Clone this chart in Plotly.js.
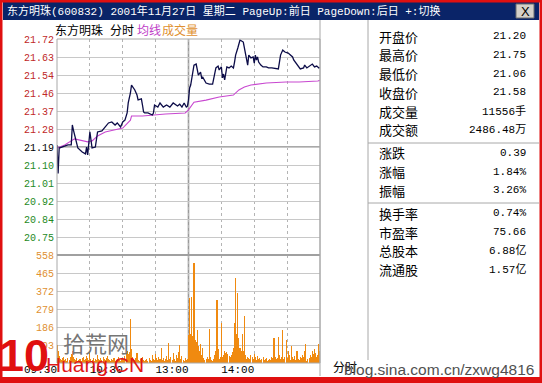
<!DOCTYPE html>
<html><head><meta charset="utf-8">
<script src="https://cdn.plot.ly/plotly-3.0.1.min.js"></script>
<style>html,body{margin:0;padding:0;background:#fff;overflow:hidden}</style>
</head><body><div id="chart" style="width:542px;height:383px"></div>
<script>
// ---------------- data ----------------
const windowTitle = "东方明珠(600832) 2001年11月27日 星期二 PageUp:前日 PageDown:后日 +:切换";
const headerItems = ["东方明珠", "分时", "均线", "成交量"];
const preClose = 21.19;
const priceHigh = 21.72;
const priceTickLabels = ["21.72","21.63","21.54","21.46","21.37","21.28","21.19","21.10","21.01","20.92","20.84","20.75",""];
const pctTickLabels = ["2.50%","2.08%","1.67%","1.25%","0.83%","0.42%","0.00%","0.42%","0.83%","1.25%","1.67%","2.08%",""];
const volTickValues = [0, 93, 186, 279, 372, 465, 558];
const volTickLabels = ["", "93", "186", "279", "372", "465", "558"];
const timeTickMinutes = [0, 30, 60, 90, 120, 150, 180, 210, 240];
const timeTickLabels = ["09:30", "", "10:30", "", "13:00", "", "14:00", "", ""];

// minute index (0 = 9:30, 120 = 11:30/13:00, 240 = 15:00) and price
const priceMinutes = [0,1,2,5,10,13,14,15,17,19,23,26,27,28,30,32,35,37,41,44,47,50,53,55,58,60,62,64,65,67,68,71,73,74,77,78,79,80,83,87,88,89,92,94,97,100,103,106,110,112,114,116,118,119,120,121,122,125,127,129,131,132,133,136,139,142,143,145,147,148,150,151,152,153,155,157,159,161,162,163,165,166,167,170,171,173,174,175,177,179,180,181,182,183,184,186,188,191,193,196,200,202,203,204,206,208,211,213,215,216,218,220,222,225,226,228,230,233,235,237,239,240];
const priceValues = [21.20,21.06,21.185,21.19,21.20,21.20,21.298,21.273,21.224,21.185,21.165,21.156,21.19,21.151,21.264,21.185,21.19,21.264,21.269,21.288,21.308,21.313,21.298,21.308,21.288,21.313,21.322,21.357,21.406,21.455,21.494,21.47,21.445,21.421,21.426,21.396,21.362,21.357,21.357,21.347,21.357,21.396,21.386,21.406,21.386,21.396,21.386,21.406,21.391,21.40,21.386,21.406,21.386,21.39,21.42,21.48,21.494,21.592,21.597,21.543,21.558,21.529,21.533,21.504,21.499,21.499,21.529,21.578,21.587,21.568,21.583,21.529,21.548,21.519,21.583,21.578,21.587,21.578,21.607,21.641,21.676,21.70,21.715,21.705,21.676,21.607,21.592,21.641,21.627,21.632,21.602,21.641,21.617,21.632,21.607,21.592,21.583,21.583,21.578,21.578,21.573,21.573,21.607,21.641,21.666,21.656,21.651,21.641,21.632,21.617,21.602,21.583,21.573,21.578,21.592,21.578,21.587,21.597,21.583,21.587,21.578,21.58];

const avgMinutes = [0,7,16,28,32,37,44,53,60,67,68,78,87,99,117,120,125,136,148,161,166,171,177,191,209,221,238,240];
const avgValues = [21.185,21.20,21.23,21.215,21.22,21.244,21.264,21.273,21.283,21.322,21.342,21.342,21.347,21.352,21.357,21.372,21.41,21.42,21.435,21.445,21.47,21.484,21.494,21.504,21.509,21.509,21.514,21.517];

// volume (lots) per minute, index = minute
const volume = [
 95,60,35,20,15,25,30,15,20,10,
 25,15,30,45,60,30,20,15,25,10,
 15,20,10,25,30,15,20,35,25,15,
 50,20,15,25,10,20,15,40,20,15,
 25,15,30,20,15,25,35,20,15,10,
 20,15,25,10,15,20,30,15,10,20,
 25,20,35,50,60,45,55,227,70,30,
 20,15,25,50,15,10,20,15,30,15,
 10,15,20,10,25,15,10,40,20,15,
 45,25,15,30,20,78,15,25,10,20,
 35,15,103,20,30,15,50,20,10,40,
 25,55,93,20,35,15,10,25,15,20,
 145,336,150,340,140,517,120,110,170,90,
 60,100,40,80,25,15,20,30,20,176,
 30,15,10,20,40,60,325,70,20,30,
 207,30,40,60,50,55,45,35,30,40,
 55,80,207,439,150,362,130,80,60,150,
 60,243,40,20,30,25,20,40,30,20,
 45,30,15,35,20,25,15,20,30,15,
 20,25,10,15,20,15,30,25,129,30,
 20,25,134,40,20,30,170,20,30,120,
 25,60,40,15,90,30,20,35,15,60,
 20,15,30,25,40,30,60,100,10,20,
 25,40,30,60,45,70,50,30,40,100,
 60
];

const infoLabels = ["开盘价","最高价","最低价","收盘价","成交量","成交额","涨跌","涨幅","振幅","换手率","市盈率","总股本","流通股"];
const infoValues = ["21.20","21.75","21.06","21.58","11556手","2486.48万","0.39","1.84%","3.26%","0.74%","75.66","6.88亿","1.57亿"];
const watermarkSite = "blog.sina.com.cn/zxwg4816";

// ---------------- layout helpers ----------------
const W = 542, H = 383;
const fx = x => x / W;
const fy = y => 1 - y / H;
const RED = '#c02828', GREEN = '#1e8a1e', ORANGE = '#e09030', MONO = 'Liberation Mono, Noto Sans CJK SC', CJK = 'Noto Sans CJK SC, Noto Sans';

const step = (priceHigh - preClose) / 6;
const priceTickVals = priceTickLabels.map((_, k) => preClose + (6 - k) * step);
const colorFor = k => k < 6 ? RED : (k === 6 ? '#000' : GREEN);
const priceTickText = priceTickLabels.map((t, k) => t ? '<span style="color:' + colorFor(k) + '">' + t + '</span>' : '');
const pctTickText = pctTickLabels.map((t, k) => t ? '<span style="color:' + colorFor(k) + '">' + t + '</span>' : '');
const minutesAll = volume.map((_, i) => i);

const traces = [
  {x: minutesAll, y: volume, type: 'bar', xaxis: 'x', yaxis: 'y3', marker: {color: '#f08a10', line: {width: 0}}, width: 0.95, hoverinfo: 'skip'},
  {x: avgMinutes, y: avgValues, type: 'scatter', mode: 'lines', xaxis: 'x2', yaxis: 'y', line: {color: '#c848d0', width: 1.1}, hoverinfo: 'skip'},
  {x: priceMinutes, y: priceValues, type: 'scatter', mode: 'lines', xaxis: 'x2', yaxis: 'y', line: {color: '#0c0c48', width: 1.3}, hoverinfo: 'skip'}
];

const gridX = {range: [0, 240], domain: [fx(57), fx(320)], tickvals: timeTickMinutes, showgrid: true, gridcolor: '#b4b4b4', griddash: 'dot', gridwidth: 1, zeroline: false, showline: false, ticks: '', fixedrange: true};
const layout = {
  width: W, height: H, margin: {l: 0, r: 0, t: 0, b: 0},
  paper_bgcolor: '#fff', plot_bgcolor: 'rgba(0,0,0,0)', showlegend: false, bargap: 0,
  xaxis: Object.assign({}, gridX, {anchor: 'y3', ticktext: timeTickLabels, ticklabelposition: 'outside left', ticklabelstandoff: -2, tickfont: {family: MONO, size: 11, color: '#000'}}),
  xaxis2: Object.assign({}, gridX, {anchor: 'y', showticklabels: false}),
  yaxis: {domain: [fy(255), fy(39)], range: [preClose - 6 * step, priceHigh], anchor: 'x2', tickvals: priceTickVals, ticktext: priceTickText, showgrid: true, gridcolor: '#c8c8c8', zeroline: false, ticks: '', ticklabelstandoff: 2, tickfont: {family: MONO, size: 10}, fixedrange: true},
  yaxis2: {overlaying: 'y', side: 'right', anchor: 'x2', range: [preClose - 6 * step, priceHigh], tickvals: priceTickVals, ticktext: pctTickText, showgrid: false, zeroline: false, ticks: '', ticklabelstandoff: 2, tickfont: {family: MONO, size: 10}, fixedrange: true},
  yaxis3: {domain: [fy(363), fy(255)], range: [0, 558], anchor: 'x', tickvals: volTickValues, ticktext: volTickLabels, showgrid: true, gridcolor: '#c8c8c8', zeroline: false, ticks: '', ticklabelstandoff: 2, tickfont: {family: MONO, size: 10, color: ORANGE}, fixedrange: true},
  yaxis4: {overlaying: 'y3', side: 'right', anchor: 'x', range: [0, 558], tickvals: volTickValues, ticktext: volTickLabels, showgrid: false, zeroline: false, ticks: '', ticklabelstandoff: 2, tickfont: {family: MONO, size: 10, color: ORANGE}, fixedrange: true},
  shapes: [], annotations: []
};

const S = layout.shapes, A = layout.annotations;
const pline = (x0, y0, x1, y1, color, w) => S.push({type: 'line', xref: 'paper', yref: 'paper', x0: fx(x0), y0: fy(y0), x1: fx(x1), y1: fy(y1), line: {color: color, width: w}, layer: 'above'});
const prect = (x0, y0, x1, y1, fill, lc, lw, layer) => S.push({type: 'rect', xref: 'paper', yref: 'paper', x0: fx(x0), y0: fy(y0), x1: fx(x1), y1: fy(y1), fillcolor: fill, line: {color: lc, width: lw}, layer: layer || 'above'});
const text = (s, x, y, opts) => A.push(Object.assign({text: s, xref: 'paper', yref: 'paper', x: fx(x), y: fy(y), showarrow: false, xanchor: 'left', yanchor: 'middle', font: {family: CJK, size: 12, color: '#000'}}, opts || {}));

// window frame and title bar
prect(3, 2, 539, 20, '#0a2468', '#0a2468', 0);
prect(516, 4, 534, 18, '#d4d0c8', '#6c6c6c', 1);
text('X', 525, 11.5, {xanchor: 'center', font: {family: 'Liberation Sans', size: 13, color: '#000'}});
text(windowTitle, 5, 11, {font: {family: MONO, size: 11, color: '#fff'}});

// chart frame
prect(57, 39, 320, 363, 'rgba(0,0,0,0)', '#a8a8a8', 1);
S.push({type: 'line', xref: 'paper', yref: 'y', x0: fx(57), x1: fx(320), y0: preClose, y1: preClose, line: {color: '#8c8c8c', width: 1.6}, layer: 'below'});
pline(57, 255, 320, 255, '#a0a0a0', 2);
S.push({type: 'line', xref: 'x', yref: 'paper', x0: 120, x1: 120, y0: fy(363), y1: fy(39), line: {color: '#9a9a9a', width: 1.6}, layer: 'below'});
pline(320, 20, 320, 376, '#a8a8a8', 1);
pline(368, 20, 368, 360, '#a8a8a8', 1);
pline(368, 143, 539, 143, '#a8a8a8', 1);
pline(368, 203, 539, 203, '#a8a8a8', 1);
// red window border
prect(1, 1, 541, 382, 'rgba(0,0,0,0)', '#e01010', 3);
prect(0, 377, 542, 381, '#e01010', '#e01010', 0);

// chart header
text(headerItems[0], 53, 30);
text(headerItems[1], 108, 30);
text(headerItems[2], 135, 30, {font: {family: CJK, size: 12, color: '#c040c8'}});
text(headerItems[3], 160, 30, {font: {family: CJK, size: 12, color: ORANGE}});

// info panel
infoLabels.forEach((lab, i) => {
  const y = 36 + i * 18.8 + (i >= 6 ? 4 : 0) + (i >= 9 ? 4 : 0);
  text(lab, 377, y, {font: {family: CJK, size: 13, color: '#000'}});
  text(infoValues[i], 528, y, {xanchor: 'right', font: {family: MONO, size: 11, color: '#000'}});
});

// bottom tabs and watermarks
text('分时', 331, 366, {font: {family: CJK, size: 12, color: '#000'}});
text(watermarkSite, 536, 369, {xanchor: 'right', font: {family: 'Liberation Sans', size: 15.5, color: '#505050'}});
text('拾荒网', 61, 342, {font: {family: CJK, size: 22, color: '#767676'}});
text('Huang.CN', 44, 364, {font: {family: 'Liberation Sans', size: 21, color: '#e01818'}});
text('10', 24, 355, {xanchor: 'center', font: {family: 'Liberation Sans', size: 45, color: '#e01010', weight: 'bold'}});

Plotly.newPlot('chart', traces, layout, {staticPlot: true, displayModeBar: false});
</script></body></html>
